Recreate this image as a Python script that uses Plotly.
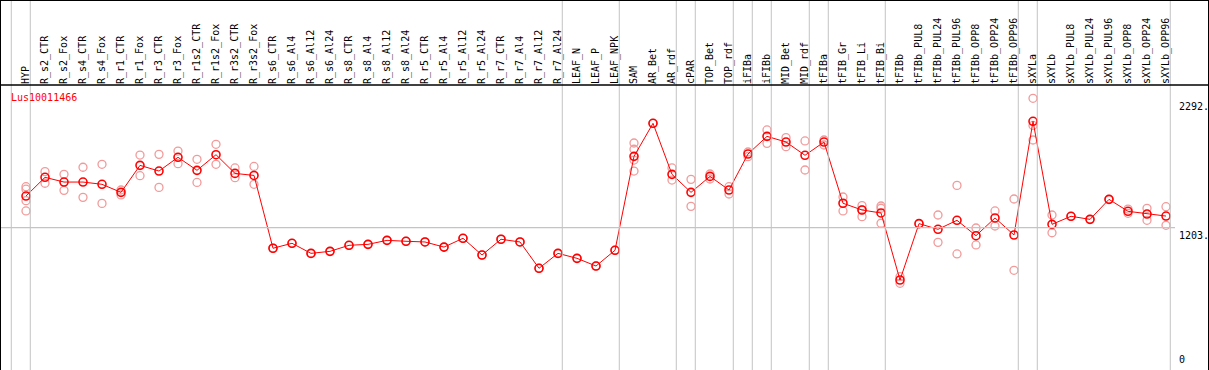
import plotly.graph_objects as go

# ---------------- data ----------------
title_text = "Lus10011466"

categories = [
    "HYP",
    "R_s2_CTR", "R_s2_Fox", "R_s4_CTR", "R_s4_Fox", "R_r1_CTR", "R_r1_Fox",
    "R_r3_CTR", "R_r3_Fox", "R_r1s2_CTR", "R_r1s2_Fox", "R_r3s2_CTR", "R_r3s2_Fox",
    "R_s6_CTR", "R_s6_Al4", "R_s6_Al12", "R_s6_Al24", "R_s8_CTR", "R_s8_Al4",
    "R_s8_Al12", "R_s8_Al24", "R_r5_CTR", "R_r5_Al4", "R_r5_Al12", "R_r5_Al24",
    "R_r7_CTR", "R_r7_Al4", "R_r7_Al12", "R_r7_Al24",
    "LEAF_N", "LEAF_P", "LEAF_NPK",
    "SAM", "AR_Bet", "AR_rdf",
    "cPAR",
    "TOP_Bet", "TOP_rdf",
    "iFIBa",
    "iFIBb",
    "MID_Bet", "MID_rdf",
    "tFIBa",
    "tFIB_Gr", "tFIB_Li", "tFIB_Bi",
    "tFIBb", "tFIBb_PUL8", "tFIBb_PUL24", "tFIBb_PUL96", "tFIBb_OPP8",
    "tFIBb_OPP24", "tFIBb_OPP96",
    "sXYLa",
    "sXYLb", "sXYLb_PUL8", "sXYLb_PUL24", "sXYLb_PUL96", "sXYLb_OPP8",
    "sXYLb_OPP24", "sXYLb_OPP96",
]

# sizes of the sample groups (separators drawn between groups)
group_sizes = [1, 28, 3, 3, 1, 2, 1, 1, 2, 1, 3, 7, 1, 7]

mean_values = [
    1469,
    1627, 1587, 1587, 1568, 1500, 1728,
    1680, 1796, 1686, 1818, 1660, 1643,
    1028, 1070, 985, 1002, 1053, 1061,
    1095, 1087, 1081, 1038, 1112, 971,
    1104, 1081, 859, 985,
    943, 878, 1011,
    1804, 2083, 1652,
    1500,
    1635, 1520,
    1824,
    1973,
    1925, 1813,
    1925,
    1408, 1351, 1326,
    760, 1236, 1188, 1264, 1134,
    1284, 1140,
    2100,
    1230, 1298, 1272, 1441, 1340,
    1317, 1300,
]

replicate_values = [
    [1548, 1527, 1430, 1343],
    [1675, 1577], [1652, 1517], [1712, 1458], [1737, 1407], [1520, 1478], [1815, 1641],
    [1821, 1542], [1849, 1742], [1779, 1584], [1906, 1737], [1706, 1624], [1719, 1568],
    [1028], [1070], [985], [1002], [1053], [1061],
    [1095], [1087], [1081], [1038], [1112], [971],
    [1104], [1081], [859], [985],
    [943], [878], [1011],
    [1917, 1864, 1773, 1680], [2083], [1706, 1604],
    [1610, 1382],
    [1655, 1613], [1548, 1486],
    [1841, 1801],
    [2027, 1914],
    [1962, 1886], [1934, 1689],
    [1942, 1900],
    [1461, 1343], [1388, 1351, 1295], [1385, 1366, 1239],
    [788, 732], [1236], [1309, 1078], [1559, 980], [1199, 1056],
    [1343, 1216], [1444, 842],
    [2294, 2065, 1942],
    [1309, 1159], [1298], [1272], [1441], [1359, 1323],
    [1365, 1264], [1379, 1222],
]

ytick_values = [0, 1203, 2292]
ytick_labels = ["0", "1203.", "2292."]
y_max = 2292 * 1.05

# ---------------- figure ----------------
W, H = 1209, 370
header_px = 85
x_lo = -26 / 19
x_hi = x_lo + W / 19

rep_x, rep_y = [], []
for c, reps in zip(categories, replicate_values):
    for v in reps:
        rep_x.append(c)
        rep_y.append(v)

fig = go.Figure()
fig.add_trace(go.Scatter(
    x=rep_x, y=rep_y, mode="markers",
    marker=dict(symbol="circle-open", size=8, color="#F29A9A",
                line=dict(width=1.3, color="#F29A9A")),
    hoverinfo="skip", showlegend=False,
))
fig.add_trace(go.Scatter(
    x=categories, y=mean_values, mode="lines+markers",
    line=dict(color="#FF0000", width=1),
    marker=dict(symbol="circle-open", size=8, color="#FF0000",
                line=dict(width=1.6, color="#FF0000")),
    showlegend=False,
))

shapes = []
# group separators
boundaries = [-1]
acc = -1
for g in group_sizes:
    acc += g
    boundaries.append(acc)
for b in boundaries:
    shapes.append(dict(type="line", xref="x", yref="paper",
                       x0=b + 0.226, x1=b + 0.226, y0=0, y1=1,
                       line=dict(color="#C4C4C4", width=1)))
# horizontal gridline at middle tick
shapes.append(dict(type="line", xref="paper", yref="y",
                   x0=0, x1=1175 / W, y0=ytick_values[1], y1=ytick_values[1],
                   line=dict(color="#C4C4C4", width=1.3)))
# borders
shapes.append(dict(type="line", xref="paper", yref="paper", x0=0, x1=1, y0=1, y1=1,
                   line=dict(color="black", width=2)))
shapes.append(dict(type="line", xref="paper", yref="paper", x0=0, x1=0, y0=0, y1=1,
                   line=dict(color="black", width=2)))
shapes.append(dict(type="line", xref="paper", yref="paper", x0=1, x1=1, y0=0, y1=1,
                   line=dict(color="black", width=2)))
shapes.append(dict(type="line", xref="paper", yref="paper", x0=0, x1=1,
                   y0=(H - header_px) / H, y1=(H - header_px) / H,
                   line=dict(color="black", width=1.5)))

mono = "DejaVu Sans Mono, monospace"
annotations = [dict(
    text=title_text, xref="paper", yref="paper", x=9 / W, y=(H - 97) / H,
    xanchor="left", yanchor="middle", showarrow=False,
    font=dict(family=mono, size=10, color="#FF0000"),
)]
for v, lab in zip(ytick_values, ytick_labels):
    if v == 0:
        annotations.append(dict(text=lab, xref="paper", yref="y", x=1177 / W, y=v,
                                xanchor="left", yanchor="bottom", yshift=3, showarrow=False,
                                font=dict(family=mono, size=10, color="black")))
    else:
        annotations.append(dict(text=lab, xref="paper", yref="y", x=1177 / W, y=v,
                                xanchor="left", yanchor="top", showarrow=False,
                                font=dict(family=mono, size=10, color="black")))

fig.update_layout(
    width=W, height=H, autosize=False,
    margin=dict(l=0, r=0, t=0, b=0, pad=0),
    paper_bgcolor="white", plot_bgcolor="white",
    shapes=shapes, annotations=annotations,
    xaxis=dict(
        type="category", categoryorder="array", categoryarray=categories,
        range=[x_lo, x_hi], side="top", tickangle=-90,
        tickmode="array", tickvals=categories, ticktext=categories,
        tickfont=dict(family=mono, size=10, color="black"),
        showgrid=False, zeroline=False, showline=False, ticks="",
        fixedrange=True,
    ),
    yaxis=dict(
        domain=[0, (H - header_px) / H], range=[0, y_max],
        showgrid=False, zeroline=False, showline=False, showticklabels=False,
        ticks="", fixedrange=True,
    ),
)

fig.write_html(
    "out.html",
    config={"displayModeBar": False},
    post_script="document.body.style.margin='0px';document.body.style.overflow='hidden';",
)
